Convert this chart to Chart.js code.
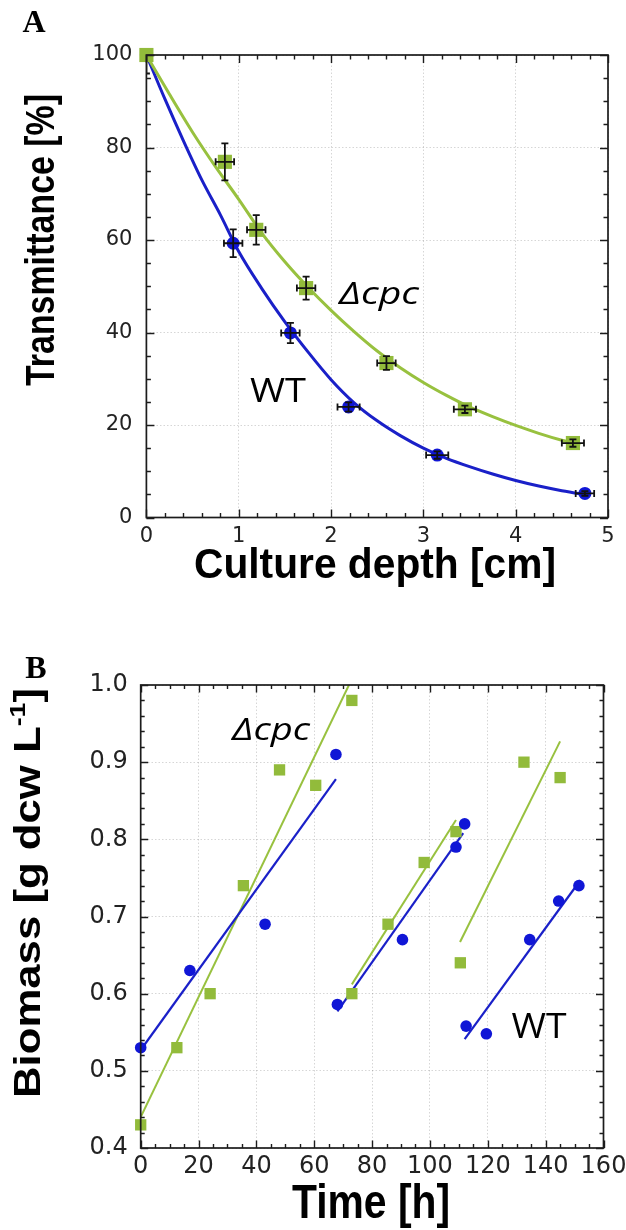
<!DOCTYPE html>
<html>
<head>
<meta charset="utf-8">
<script src="https://cdn.jsdelivr.net/npm/chart.js@4.4.1/dist/chart.umd.min.js"></script>
<style>
  html, body { margin: 0; padding: 0; background: #fff; }
  #wrap { position: relative; width: 626px; height: 1230px; }
  canvas { position: absolute; left: 0; }
  #panelA { top: 0; width: 626px; height: 615px; }
  #panelB { top: 615px; width: 626px; height: 615px; }
</style>
</head>
<body>
<div id="wrap">
  <canvas id="panelA" width="626" height="615"></canvas>
  <canvas id="panelB" width="626" height="615"></canvas>
</div>
<script>
// ---------- Panel A: transmittance through the culture ----------
const depthTicks = [0, 1, 2, 3, 4, 5];
const transmittanceTicks = [0, 20, 40, 60, 80, 100];

// WT measurements (cm, %) with x / y error
const wtDepth      = [0, 0.94, 1.56, 2.19, 3.15, 4.75];
const wtTrans      = [100, 59.3, 39.9, 23.9, 13.5, 5.2];
const wtDepthErr   = [0, 0.10, 0.10, 0.12, 0.12, 0.10];
const wtTransErr   = [0, 3.0, 2.2, 1.0, 0.8, 0.5];

// Δcpc measurements
const cpcDepth     = [0, 0.85, 1.19, 1.73, 2.60, 3.45, 4.62];
const cpcTrans     = [100, 76.9, 62.2, 49.6, 33.4, 23.4, 16.1];
const cpcDepthErr  = [0, 0.10, 0.10, 0.10, 0.10, 0.12, 0.12];
const cpcTransErr  = [4.0, 4.0, 3.2, 2.5, 1.5, 0.8, 0.8];

// fitted attenuation curves
const wtFitDepth  = [0, 0.2, 0.4, 0.6, 0.8, 1.0, 1.25, 1.5, 1.75, 2.0, 2.25, 2.5, 2.75, 3.0, 3.25, 3.5, 3.75, 4.0, 4.25, 4.5, 4.8];
const wtFitTrans  = [100, 90.5, 81.5, 73, 65.5, 57.5, 49.5, 42.3, 35.8, 29.8, 24.8, 20.9, 17.7, 15.0, 12.8, 11.0, 9.4, 8.0, 6.8, 5.8, 4.8];
const cpcFitDepth = [0, 0.25, 0.5, 0.75, 1.0, 1.25, 1.5, 1.75, 2.0, 2.25, 2.5, 2.75, 3.0, 3.25, 3.5, 3.75, 4.0, 4.25, 4.5, 4.7];
const cpcFitTrans = [100, 91.5, 83.3, 75.8, 68.8, 61.5, 55.3, 49.8, 44.8, 40.2, 36.0, 32.4, 29.2, 26.4, 23.9, 21.8, 19.9, 18.2, 16.7, 15.7];

// ---------- Panel B: biomass over time ----------
const timeTicks = [0, 20, 40, 60, 80, 100, 120, 140, 160];
const biomassTicks = [0.4, 0.5, 0.6, 0.7, 0.8, 0.9, 1.0];

const wtTime     = [0, 17, 43, 67.5, 68, 90.5, 109, 112, 112.5, 119.5, 134.5, 144.5, 151.5];
const wtBiomass  = [0.53, 0.63, 0.69, 0.91, 0.586, 0.67, 0.79, 0.82, 0.558, 0.548, 0.67, 0.72, 0.74];
const cpcTime    = [0, 12.5, 24, 35.5, 48, 60.5, 73, 73, 85.5, 98, 109, 110.5, 132.5, 145];
const cpcBiomass = [0.43, 0.53, 0.60, 0.74, 0.89, 0.87, 0.98, 0.60, 0.69, 0.77, 0.81, 0.64, 0.90, 0.88];

// linear growth fits, one per batch
const wtRun1Time  = [0, 67.5];     const wtRun1Biomass  = [0.527, 0.878];
const wtRun2Time  = [68, 111.5];   const wtRun2Biomass  = [0.577, 0.808];
const wtRun3Time  = [112, 152];    const wtRun3Biomass  = [0.541, 0.747];
const cpcRun1Time = [0, 72];       const cpcRun1Biomass = [0.44, 1.0];
const cpcRun2Time = [73, 109];     const cpcRun2Biomass = [0.612, 0.825];
const cpcRun3Time = [110.4, 145];  const cpcRun3Biomass = [0.667, 0.927];

// ---------- styling ----------
const BLUE = '#1016d6';
const BLUE_LINE = '#1a20c8';
const GREEN = '#92bb3b';
const GREEN_LINE = '#98c13f';
const TICK_COLOR = '#222';
const GRID_COLOR = 'rgba(0,0,0,0.16)';
const SANS = '"Liberation Sans", Arial, sans-serif';
const LABEL_FONT = '"Open Sans", "Lato", sans-serif';

const pts = (xs, ys) => xs.map((x, i) => ({ x, y: ys[i] }));

// text drawn straight onto the canvas (titles, panel letters, series labels)
function textPlugin(items) {
  return {
    id: 'panelText',
    afterDraw(chart) {
      const ctx = chart.ctx;
      items.forEach(item => {
        ctx.save();
        ctx.fillStyle = item.color || '#000';
        ctx.textBaseline = 'alphabetic';
        ctx.textAlign = 'left';
        const widths = item.runs.map(r => { ctx.font = r.font; return ctx.measureText(r.text).width; });
        const total = widths.reduce((a, b) => a + b, 0);
        const sx = item.width ? item.width / total : 1;
        ctx.translate(item.x, item.y);
        if (item.rotate) ctx.rotate(item.rotate);
        ctx.scale(sx, 1);
        let cx = -total / 2;
        item.runs.forEach((r, i) => {
          ctx.font = r.font;
          ctx.fillText(r.text, cx, r.dy || 0);
          cx += widths[i];
        });
        ctx.restore();
      });
    }
  };
}

// box frame with inward major / minor ticks on all four sides
function framePlugin(cfg) {
  return {
    id: 'frameTicks',
    afterDatasetsDraw(chart) {
      const { ctx, chartArea: a, scales: { x, y } } = chart;
      ctx.save();
      ctx.strokeStyle = '#1c1c1c';
      ctx.lineWidth = 1.4;
      ctx.beginPath();
      for (let i = 0; i <= cfg.xCount; i++) {
        const px = Math.round(x.getPixelForValue(x.min + i * cfg.xStep)) + 0.5;
        const len = i % cfg.xMajor === 0 ? cfg.major : cfg.minor;
        ctx.moveTo(px, a.bottom); ctx.lineTo(px, a.bottom - len);
        ctx.moveTo(px, a.top); ctx.lineTo(px, a.top + len);
      }
      for (let i = 0; i <= cfg.yCount; i++) {
        const py = Math.round(y.getPixelForValue(y.min + i * cfg.yStep)) + 0.5;
        const len = i % cfg.yMajor === 0 ? cfg.major : cfg.minor;
        ctx.moveTo(a.left, py); ctx.lineTo(a.left + len, py);
        ctx.moveTo(a.right, py); ctx.lineTo(a.right - len, py);
      }
      ctx.stroke();
      ctx.lineWidth = 1.7;
      ctx.strokeRect(a.left, a.top, a.right - a.left, a.bottom - a.top);
      ctx.restore();
    }
  };
}

// x / y error bars with caps, clipped to the plot area
function errorBarPlugin(sets) {
  return {
    id: 'errorBars',
    afterDatasetsDraw(chart) {
      const { ctx, chartArea: a, scales: { x, y } } = chart;
      ctx.save();
      ctx.beginPath();
      ctx.rect(a.left, a.top, a.right - a.left, a.bottom - a.top);
      ctx.clip();
      ctx.strokeStyle = '#111';
      ctx.lineWidth = 1.8;
      const cap = 3.5;
      sets.forEach(s => {
        s.x.forEach((xv, i) => {
          const px = x.getPixelForValue(xv);
          const py = y.getPixelForValue(s.y[i]);
          ctx.beginPath();
          if (s.yErr[i] > 0) {
            const t = y.getPixelForValue(s.y[i] + s.yErr[i]);
            const b = y.getPixelForValue(s.y[i] - s.yErr[i]);
            ctx.moveTo(px, t); ctx.lineTo(px, b);
            ctx.moveTo(px - cap, t); ctx.lineTo(px + cap, t);
            ctx.moveTo(px - cap, b); ctx.lineTo(px + cap, b);
          }
          if (s.xErr[i] > 0) {
            const l = x.getPixelForValue(xv - s.xErr[i]);
            const r = x.getPixelForValue(xv + s.xErr[i]);
            ctx.moveTo(l, py); ctx.lineTo(r, py);
            ctx.moveTo(l, py - cap); ctx.lineTo(l, py + cap);
            ctx.moveTo(r, py - cap); ctx.lineTo(r, py + cap);
          }
          ctx.stroke();
        });
      });
      ctx.restore();
    }
  };
}

function axisOptions(o) {
  return {
    type: 'linear',
    min: o.min, max: o.max,
    afterBuildTicks: s => { s.ticks = o.ticks.map(v => ({ value: v })); },
    ticks: {
      color: TICK_COLOR,
      font: { family: '"DejaVu Sans", sans-serif', size: o.fontSize },
      padding: o.padding,
      maxRotation: 0,
      autoSkip: false,
      callback: o.format || (v => String(v))
    },
    grid: { color: GRID_COLOR, lineWidth: 1, drawTicks: false },
    border: { display: false, dash: [1.5, 2] },
    afterFit: o.afterFit
  };
}

const commonOptions = (pad) => ({
  responsive: false,
  animation: false,
  devicePixelRatio: 1,
  layout: { padding: pad },
  plugins: { legend: { display: false }, tooltip: { enabled: false } }
});

// ---------- Panel A chart ----------
new Chart(document.getElementById('panelA'), {
  type: 'scatter',
  data: {
    datasets: [
      { label: 'Δcpc', data: pts(cpcDepth, cpcTrans), pointStyle: 'rect', pointRadius: 10,
        backgroundColor: GREEN, borderWidth: 0, clip: false },
      { label: 'WT', data: pts(wtDepth, wtTrans), pointStyle: 'circle', pointRadius: 6.5,
        backgroundColor: BLUE, borderWidth: 0, clip: false },
      { label: 'Δcpc fit', data: pts(cpcFitDepth, cpcFitTrans), showLine: true, pointRadius: 0,
        borderColor: GREEN_LINE, borderWidth: 3, cubicInterpolationMode: 'monotone' },
      { label: 'WT fit', data: pts(wtFitDepth, wtFitTrans), showLine: true, pointRadius: 0,
        borderColor: BLUE_LINE, borderWidth: 3, cubicInterpolationMode: 'monotone' }
    ]
  },
  options: Object.assign(commonOptions({ left: 0, top: 55, right: 18, bottom: 0 }), {
    scales: {
      x: axisOptions({ min: 0, max: 5, ticks: depthTicks, fontSize: 21, padding: 6,
        afterFit: s => { s.height = 97.5; s.paddingLeft = 0; s.paddingRight = 0; } }),
      y: axisOptions({ min: 0, max: 100, ticks: transmittanceTicks, fontSize: 21, padding: 14,
        afterFit: s => { s.width = 146.4; s.paddingTop = 0; s.paddingBottom = 0; } })
    }
  }),
  plugins: [
    errorBarPlugin([
      { x: wtDepth, y: wtTrans, xErr: wtDepthErr, yErr: wtTransErr },
      { x: cpcDepth, y: cpcTrans, xErr: cpcDepthErr, yErr: cpcTransErr }
    ]),
    framePlugin({ xStep: 0.2, xCount: 25, xMajor: 5, yStep: 5, yCount: 20, yMajor: 4, major: 8, minor: 4.5 }),
    textPlugin([
      { x: 34, y: 32, runs: [{ text: 'A', font: 'bold 32px "Liberation Serif", serif' }] },
      { x: 375, y: 578, width: 362, runs: [{ text: 'Culture depth [cm]', font: 'bold 43px ' + SANS }] },
      { x: 54, y: 240, width: 292, rotate: -Math.PI / 2, runs: [{ text: 'Transmittance [%]', font: 'bold 40px ' + SANS }] },
      { x: 379, y: 304, width: 80, runs: [{ text: 'Δcpc', font: 'italic 31px ' + LABEL_FONT }] },
      { x: 278, y: 402, width: 56, runs: [{ text: 'WT', font: '33px ' + LABEL_FONT }] }
    ])
  ]
});

// ---------- Panel B chart ----------
const fitLine = (xs, ys, color, w) => ({
  data: pts(xs, ys), showLine: true, pointRadius: 0, borderColor: color, borderWidth: w
});

new Chart(document.getElementById('panelB'), {
  type: 'scatter',
  data: {
    datasets: [
      { label: 'WT', data: pts(wtTime, wtBiomass), pointStyle: 'circle', pointRadius: 5.8,
        backgroundColor: BLUE, borderWidth: 0, clip: false },
      { label: 'Δcpc', data: pts(cpcTime, cpcBiomass), pointStyle: 'rect', pointRadius: 8,
        backgroundColor: GREEN, borderWidth: 0, clip: false },
      fitLine(wtRun1Time, wtRun1Biomass, BLUE_LINE, 2.2),
      fitLine(wtRun2Time, wtRun2Biomass, BLUE_LINE, 2.2),
      fitLine(wtRun3Time, wtRun3Biomass, BLUE_LINE, 2.2),
      fitLine(cpcRun1Time, cpcRun1Biomass, GREEN_LINE, 2),
      fitLine(cpcRun2Time, cpcRun2Biomass, GREEN_LINE, 2),
      fitLine(cpcRun3Time, cpcRun3Biomass, GREEN_LINE, 2)
    ]
  },
  options: Object.assign(commonOptions({ left: 0, top: 70, right: 22.5, bottom: 0 }), {
    scales: {
      x: axisOptions({ min: 0, max: 160, ticks: timeTicks, fontSize: 24, padding: 4,
        afterFit: s => { s.height = 82; s.paddingLeft = 0; s.paddingRight = 0; } }),
      y: axisOptions({ min: 0.4, max: 1.0, ticks: biomassTicks, fontSize: 24, padding: 13,
        format: v => v.toFixed(1),
        afterFit: s => { s.width = 140.7; s.paddingTop = 0; s.paddingBottom = 0; } })
    }
  }),
  plugins: [
    framePlugin({ xStep: 5, xCount: 32, xMajor: 4, yStep: 0.02, yCount: 30, yMajor: 5, major: 7.5, minor: 4 }),
    textPlugin([
      { x: 36, y: 63, runs: [{ text: 'B', font: 'bold 32px "Liberation Serif", serif' }] },
      { x: 371, y: 603, width: 158, runs: [{ text: 'Time [h]', font: 'bold 48px ' + SANS }] },
      { x: 40, y: 278, width: 410, rotate: -Math.PI / 2, runs: [
        { text: 'Biomass [g dcw L', font: 'bold 36px ' + SANS },
        { text: '-1', font: 'bold 22px ' + SANS, dy: -15 },
        { text: ']', font: 'bold 36px ' + SANS }
      ] },
      { x: 271, y: 125, width: 78, runs: [{ text: 'Δcpc', font: 'italic 31px ' + LABEL_FONT }] },
      { x: 539, y: 423, width: 55, runs: [{ text: 'WT', font: '35px ' + LABEL_FONT }] }
    ])
  ]
});
</script>
</body>
</html>
